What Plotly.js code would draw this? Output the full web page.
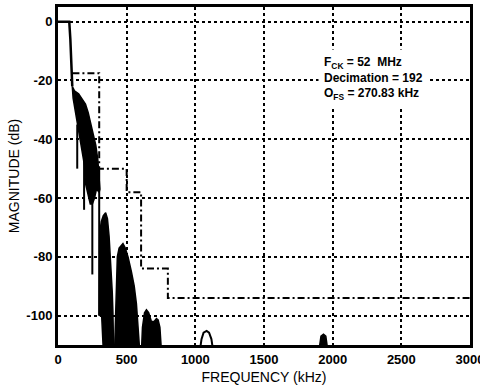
<!DOCTYPE html>
<html>
<head>
<meta charset="utf-8">
<script src="https://cdn.plot.ly/plotly-3.0.1.min.js"></script>
<style>html,body{margin:0;padding:0;background:#fff;}#chart{width:480px;height:387px;}</style>
</head>
<body>
<div id="chart"></div>
<script>
// Passband / transition edge of the filter response (kHz, dB)
const passFreq = [0, 82, 90, 98, 104];
const passMag  = [0, 0, -6, -14, -22];

// Dense oscillating region: upper envelope then lower envelope going back (closed polygon)
const bandFreq = [104, 120, 150, 180, 200, 220, 240, 260, 275, 290, 300, 305,
                  300, 280, 266, 250, 235, 215, 200, 193, 175, 157, 130, 110, 104];
const bandMag  = [-22, -23.5, -24.5, -26.5, -28, -31, -35, -38, -42, -47, -52, -57,
                  -58, -57, -60, -62, -62, -58, -55, -49, -44, -38, -31, -26, -22];

// Deep notch spikes inside the dense region
const spikeFreq = [140, 140, null, 190, 190, null, 250, 250, null, 300, 300];
const spikeMag  = [-35, -50, null, -45, -64, null, -55, -86, null, -50, -100];

// Stopband lobes (closed polygons)
const lobe1Freq = [300, 300, 304, 315, 330, 347, 360, 372, 385, 395, 400, 405, 330, 318, 300];
const lobe1Mag  = [-100, -80, -72, -68, -66, -65, -67, -73, -82, -92, -99, -112, -112, -100, -100];
const lobe2Freq = [412, 418, 425, 432, 445, 460, 473, 490, 510, 534, 555, 571, 595, 412];
const lobe2Mag  = [-112, -100, -84, -80, -77, -76, -75.5, -77, -80, -85, -90, -96, -112, -112];
const lobe3Freq = [608, 615, 630, 644, 660, 680, 700, 717, 729, 742, 753, 608];
const lobe3Mag  = [-112, -104, -99, -98, -99, -102, -102, -101, -101.5, -104, -112, -112];
const bump1Freq = [1033, 1045, 1060, 1082, 1100, 1117, 1130];
const bump1Mag  = [-112, -108, -105.8, -105.2, -105.8, -108, -112];
const bump2Freq = [1900, 1915, 1933, 1950, 1965, 1900];
const bump2Mag  = [-112, -107, -106.3, -107, -112, -112];

// Specification mask (dash-dot)
const maskFreq = [105, 300, 300, 500, 500, 605, 605, 800, 800, 3000];
const maskMag  = [-17.5, -17.5, -50, -50, -58, -58, -84, -84, -94, -94];

// Axis ticks
const xTickVals = [0, 500, 1000, 1500, 2000, 2500, 3000];
const xTickText = ['0', '500', '1000', '1500', '2000', '2500', '3000'];
const yTickVals = [0, -20, -40, -60, -80, -100];
const yTickText = ['0', '-20', '-40', '-60', '-80', '-100'];

// Annotation text
const noteLines = ['F<sub>CK</sub> = 52  MHz', 'Decimation = 192', 'O<sub>FS</sub> = 270.83 kHz'];
const noteFreq = 1935;
const noteMag = -19.2;

const black = '#000';
const polyTrace = (x, y) => ({x, y, type: 'scatter', mode: 'lines', fill: 'toself',
  fillcolor: black, line: {color: black, width: 1.5}, hoverinfo: 'skip', showlegend: false});

const traces = [
  {x: maskFreq, y: maskMag, type: 'scatter', mode: 'lines',
   line: {color: black, width: 2, dash: '7px,3px,2px,3px'}, showlegend: false},
  {x: passFreq, y: passMag, type: 'scatter', mode: 'lines',
   line: {color: black, width: 2.5}, showlegend: false},
  polyTrace(bandFreq, bandMag),
  {x: spikeFreq, y: spikeMag, type: 'scatter', mode: 'lines',
   line: {color: black, width: 2}, showlegend: false, connectgaps: false},
  polyTrace(lobe1Freq, lobe1Mag),
  polyTrace(lobe2Freq, lobe2Mag),
  polyTrace(lobe3Freq, lobe3Mag),
  {x: bump1Freq, y: bump1Mag, type: 'scatter', mode: 'lines',
   line: {color: black, width: 2}, showlegend: false},
  polyTrace(bump2Freq, bump2Mag)
];

const fam = 'Liberation Sans, Arial, sans-serif';
const tickFont = {family: fam, size: 13, color: black, weight: 'bold'};

const layout = {
  width: 480, height: 387,
  margin: {l: 58, r: 10, t: 7, b: 42},
  paper_bgcolor: '#fff', plot_bgcolor: '#fff',
  showlegend: false,
  xaxis: {
    range: [0, 3000], tickmode: 'array', tickvals: xTickVals, ticktext: xTickText,
    showgrid: true, gridcolor: black, gridwidth: 2, griddash: 'dot', zeroline: false,
    showline: true, linecolor: black, linewidth: 3, mirror: true,
    ticks: '', tickfont: tickFont, ticklabeloverflow: 'allow',
    title: {text: 'FREQUENCY (kHz)', font: {family: fam, size: 14, color: black}, standoff: 7}
  },
  yaxis: {
    range: [-110, 5], tickmode: 'array', tickvals: yTickVals, ticktext: yTickText,
    showgrid: true, gridcolor: black, gridwidth: 2, griddash: 'dot', zeroline: false,
    showline: true, linecolor: black, linewidth: 3, mirror: true,
    ticks: '', tickfont: tickFont,
    title: {text: 'MAGNITUDE (dB)', font: {family: fam, size: 14, color: black}, standoff: 4}
  },
  annotations: [{
    x: noteFreq, y: noteMag, xref: 'x', yref: 'y', text: noteLines.join('<br>'), showarrow: false,
    xanchor: 'left', yanchor: 'middle', align: 'left',
    bgcolor: '#fff', borderpad: 5, xshift: -6,
    font: {family: fam, size: 12, color: black, weight: 'bold'}
  }]
};

Plotly.newPlot('chart', traces, layout, {staticPlot: true, displayModeBar: false});
</script>
</body>
</html>
